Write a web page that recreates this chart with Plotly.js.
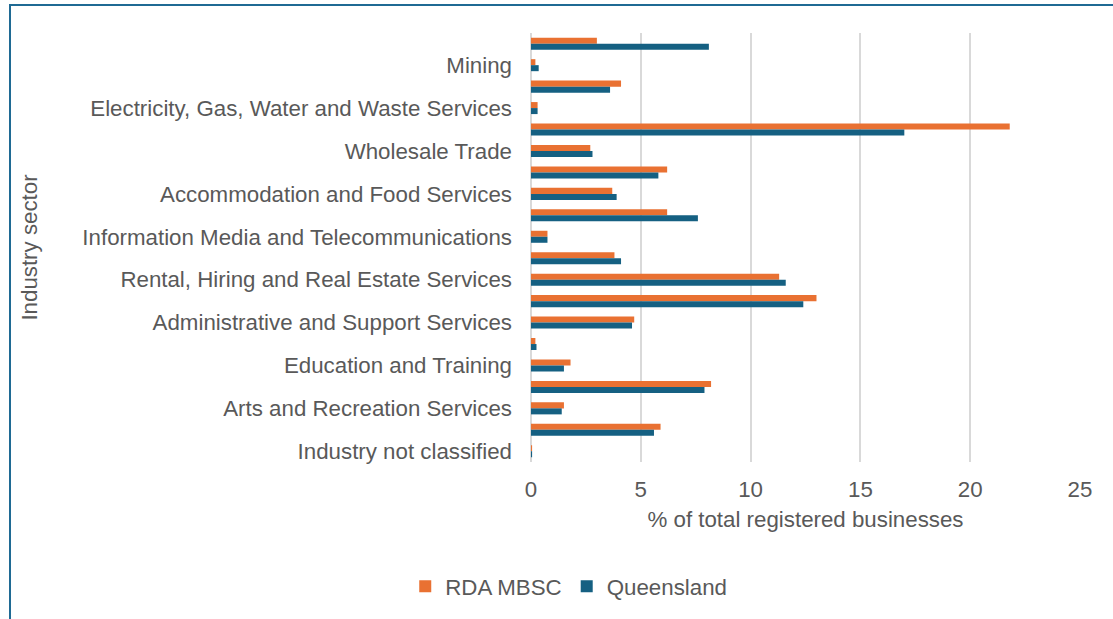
<!DOCTYPE html>
<html>
<head>
<meta charset="utf-8">
<script src="https://cdn.plot.ly/plotly-3.0.1.min.js"></script>
<style>
html,body{margin:0;padding:0;background:#fff;}
#frame{position:absolute;left:0;top:0;width:1113px;height:619px;}
#border{position:absolute;left:9px;top:4px;width:1110px;height:620px;border-left:2px solid #1F6A94;border-top:2px solid #1F6A94;pointer-events:none;}
#chart{position:absolute;left:0;top:0;width:1113px;height:619px;}
</style>
</head>
<body>
<div id="frame"><div id="chart"></div><div id="border"></div></div>
<script>
const categories = [
  "Agriculture, Forestry and Fishing",
  "Mining",
  "Manufacturing",
  "Electricity, Gas, Water and Waste Services",
  "Construction",
  "Wholesale Trade",
  "Retail Trade",
  "Accommodation and Food Services",
  "Transport, Postal and Warehousing",
  "Information Media and Telecommunications",
  "Financial and Insurance Services",
  "Rental, Hiring and Real Estate Services",
  "Professional, Scientific and Technical Services",
  "Administrative and Support Services",
  "Public Administration and Safety",
  "Education and Training",
  "Health Care and Social Assistance",
  "Arts and Recreation Services",
  "Other Services",
  "Industry not classified"
];
const rdaMBSC =    [3.0, 0.2, 4.1, 0.3, 21.8, 2.7, 6.2, 3.7, 6.2, 0.75, 3.8, 11.3, 13.0, 4.7, 0.2, 1.8, 8.2, 1.5, 5.9, 0.05];
const queensland = [8.1, 0.35, 3.6, 0.3, 17.0, 2.8, 5.8, 3.9, 7.6, 0.75, 4.1, 11.6, 12.4, 4.6, 0.25, 1.5, 7.9, 1.4, 5.6, 0.05];
const shownLabels = categories.filter((c, i) => i % 2 === 1);
const xTicks = [0, 5, 10, 15, 20, 25];

const traces = [
  {type: 'bar', orientation: 'h', name: 'RDA MBSC', y: categories, x: rdaMBSC,
   marker: {color: '#E97132'}},
  {type: 'bar', orientation: 'h', name: 'Queensland', y: categories, x: queensland,
   marker: {color: '#156082'}}
];

const textColor = '#595959';
const fs = 22.3;
const layout = {
  width: 1113, height: 619,
  margin: {l: 531, r: 33, t: 33, b: 157},
  paper_bgcolor: '#ffffff', plot_bgcolor: '#ffffff',
  font: {family: 'Liberation Sans, Arial, sans-serif', size: fs, color: textColor},
  barmode: 'group',
  bargap: 0.44,
  bargroupgap: 0,
  showlegend: true,
  legend: {orientation: 'h', xref: 'container', yref: 'container', x: 0.511, y: 0.053,
           xanchor: 'center', yanchor: 'middle', font: {size: fs, color: textColor},
           itemwidth: 30, traceorder: 'normal'},
  xaxis: {
    range: [0, 25], tickvals: xTicks, ticktext: xTicks.map(String),
    showgrid: true, gridcolor: '#D9D9D9', gridwidth: 2,
    zeroline: true, zerolinecolor: '#D9D9D9', zerolinewidth: 2,
    showline: false, ticks: '', ticklabelstandoff: 12,
    tickfont: {size: fs, color: textColor},
    title: {text: '% of total registered businesses', font: {size: fs, color: textColor}, standoff: 10}
  },
  yaxis: {
    type: 'category', autorange: 'reversed',
    tickvals: shownLabels, ticktext: shownLabels,
    showgrid: false, zeroline: false, showline: false, ticks: '',
    ticklabelstandoff: 18,
    tickfont: {size: fs, color: textColor},
    title: {text: 'Industry sector', font: {size: fs, color: textColor}, standoff: 38}
  }
};

Plotly.newPlot('chart', traces, layout, {displayModeBar: false, staticPlot: true});
</script>
</body>
</html>
